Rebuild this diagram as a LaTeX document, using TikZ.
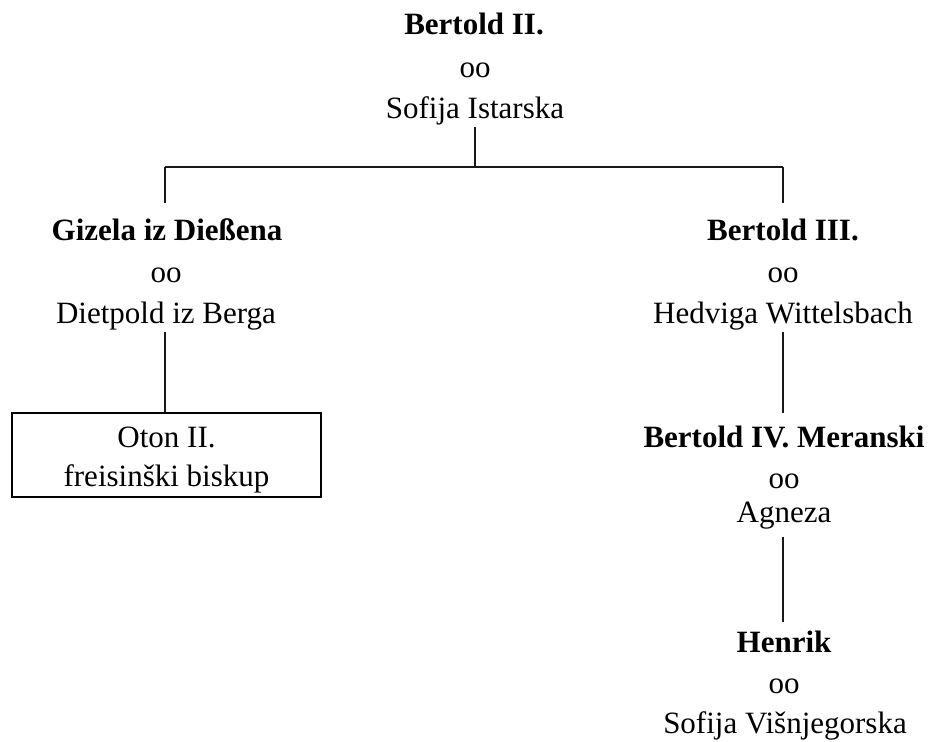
\documentclass[tikz,border=0pt]{standalone}
\usepackage{fontspec}
\setmainfont{Liberation Serif}
\begin{document}
\begin{tikzpicture}[x=1pt,y=-1pt,
  txt/.style={font=\fontsize{31}{37}\selectfont, inner sep=0pt, anchor=base, text height=21pt, text depth=7.5pt},
  nm/.style={txt, font=\fontsize{31}{37}\selectfont\bfseries},
  ln/.style={line width=2pt, black!90},
  boxnode/.style={draw, line width=2pt, minimum width=309pt, minimum height=84pt, align=center, inner sep=0pt,
    font=\fontsize{31}{39}\selectfont}]
\useasboundingbox (0,0) rectangle (928,741);
% top couple
\node[nm] (b2) at (474,35) {Bertold II.};
\node[txt] (b2o) at (475,78) {oo};
\node[txt] (sofi) at (475,118) {Sofija Istarska};
% left
\node[nm] (giz) at (167,240) {Gizela iz Dießena};
\node[txt] (gizo) at (166,282) {oo};
\node[txt] (diet) at (166,323) {Dietpold iz Berga};
\node[boxnode] (oton) at (166.5,455) {\rule{0pt}{30pt}Oton II.\\freisinški biskup};
% right
\node[nm] (b3) at (783,240) {Bertold III.};
\node[txt] (b3o) at (783,282) {oo};
\node[txt] (hed) at (783,323) {Hedviga Wittelsbach};
\node[nm] (b4) at (784,447) {Bertold IV. Meranski};
\node[txt] (b4o) at (784,488) {oo};
\node[txt] (agn) at (784,522) {Agneza};
\node[nm] (hen) at (784,652) {Henrik};
\node[txt] (heno) at (784,693) {oo};
\node[txt] (sov) at (785,733) {Sofija Višnjegorska};
% connectors
\coordinate (bar) at (475,167);
\coordinate (barL) at (165,167);
\coordinate (barR) at (783,167);
\draw[ln] ([yshift=-1.5pt]sofi.south) -- (bar);
\draw[ln] (barL) -- (barR);
\draw[ln] (barL) -- ([yshift=16pt]giz.north -| barL);
\draw[ln] (barR) -- ([yshift=16pt]b3.north -| barR);
\draw[ln] ([yshift=-1.5pt]diet.south -| barL) -- (oton.north -| barL);
\draw[ln] ([yshift=-1.5pt]hed.south -| barR) -- ([yshift=13pt]b4.north -| barR);
\draw[ln] ([yshift=-7pt]agn.south -| barR) -- ([yshift=9pt]hen.north -| barR);
\end{tikzpicture}
\end{document}
